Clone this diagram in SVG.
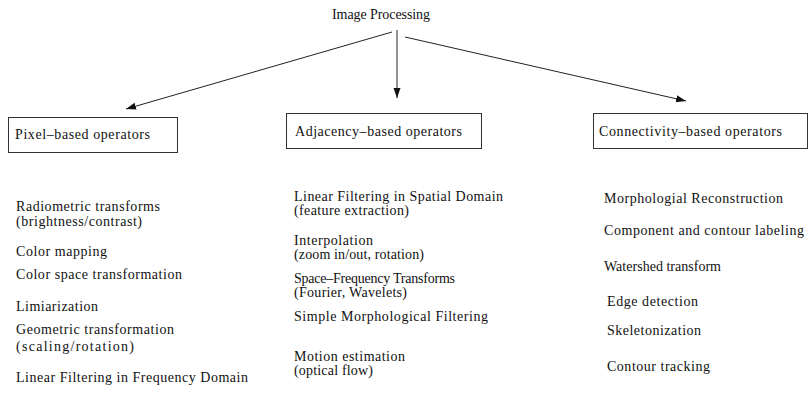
<svg xmlns="http://www.w3.org/2000/svg" width="809" height="397" viewBox="0 0 809 397">
<style>
text { font-family: "Liberation Serif", "Times New Roman", serif; font-size: 14px; fill: #111; }
.box { fill: #fff; stroke: #333; stroke-width: 1; }
.conn { stroke: #222; stroke-width: 1; fill: none; marker-end: url(#arr); }
</style>
<defs>
<marker id="arr" markerUnits="userSpaceOnUse" markerWidth="11" markerHeight="8" refX="10" refY="3.5" orient="auto">
<path d="M0,0 L10,3.5 L0,7 z" fill="#111"/>
</marker>
</defs>
<rect width="809" height="397" fill="#fff"/>
<g id="root">
<text x="332" y="19" textLength="98" lengthAdjust="spacing">Image Processing</text>
</g>
<g id="connectors">
<line class="conn" x1="392" y1="32" x2="126" y2="109"/>
<line class="conn" x1="397" y1="30" x2="397" y2="98"/>
<line class="conn" x1="405" y1="37" x2="686" y2="101"/>
</g>
<g id="pixel">
<rect class="box" x="8.5" y="117.5" width="169" height="35"/>
<text x="15" y="139" textLength="135" lengthAdjust="spacing">Pixel–based operators</text>
</g>
<g id="adjacency">
<rect class="box" x="286.5" y="113.5" width="195" height="35"/>
<text x="295" y="136" textLength="167" lengthAdjust="spacing">Adjacency–based operators</text>
</g>
<g id="connectivity">
<rect class="box" x="593.5" y="113.5" width="214" height="35"/>
<text x="599" y="136" textLength="183" lengthAdjust="spacing">Connectivity–based operators</text>
</g>
<g id="pixel-ops">
<text x="16" y="211" textLength="144" lengthAdjust="spacing">Radiometric transforms</text>
<text x="16" y="226" textLength="126" lengthAdjust="spacing">(brightness/contrast)</text>
<text x="16" y="256" textLength="91" lengthAdjust="spacing">Color mapping</text>
<text x="16" y="279" textLength="166" lengthAdjust="spacing">Color space transformation</text>
<text x="16" y="311" textLength="82" lengthAdjust="spacing">Limiarization</text>
<text x="16" y="334" textLength="158" lengthAdjust="spacing">Geometric transformation</text>
<text x="16" y="351" textLength="118" lengthAdjust="spacing">(scaling/rotation)</text>
<text x="16" y="382" textLength="232" lengthAdjust="spacing">Linear Filtering in Frequency Domain</text>
</g>
<g id="adjacency-ops">
<text x="294" y="201" textLength="209" lengthAdjust="spacing">Linear Filtering in Spatial Domain</text>
<text x="294" y="215" textLength="115" lengthAdjust="spacing">(feature extraction)</text>
<text x="294" y="245" textLength="79" lengthAdjust="spacing">Interpolation</text>
<text x="294" y="259" textLength="130" lengthAdjust="spacing">(zoom in/out, rotation)</text>
<text x="294" y="283" textLength="161" lengthAdjust="spacing">Space–Frequency Transforms</text>
<text x="294" y="297" textLength="113" lengthAdjust="spacing">(Fourier, Wavelets)</text>
<text x="294" y="321" textLength="194" lengthAdjust="spacing">Simple Morphological Filtering</text>
<text x="294" y="361" textLength="111" lengthAdjust="spacing">Motion estimation</text>
<text x="294" y="375" textLength="79" lengthAdjust="spacing">(optical flow)</text>
</g>
<g id="connectivity-ops">
<text x="604" y="203" textLength="179" lengthAdjust="spacing">Morphologial Reconstruction</text>
<text x="604" y="235" textLength="200" lengthAdjust="spacing">Component and contour labeling</text>
<text x="604" y="271" textLength="117" lengthAdjust="spacing">Watershed transform</text>
<text x="607" y="306" textLength="91" lengthAdjust="spacing">Edge detection</text>
<text x="607" y="335" textLength="94" lengthAdjust="spacing">Skeletonization</text>
<text x="607" y="371" textLength="103" lengthAdjust="spacing">Contour tracking</text>
</g>
</svg>
